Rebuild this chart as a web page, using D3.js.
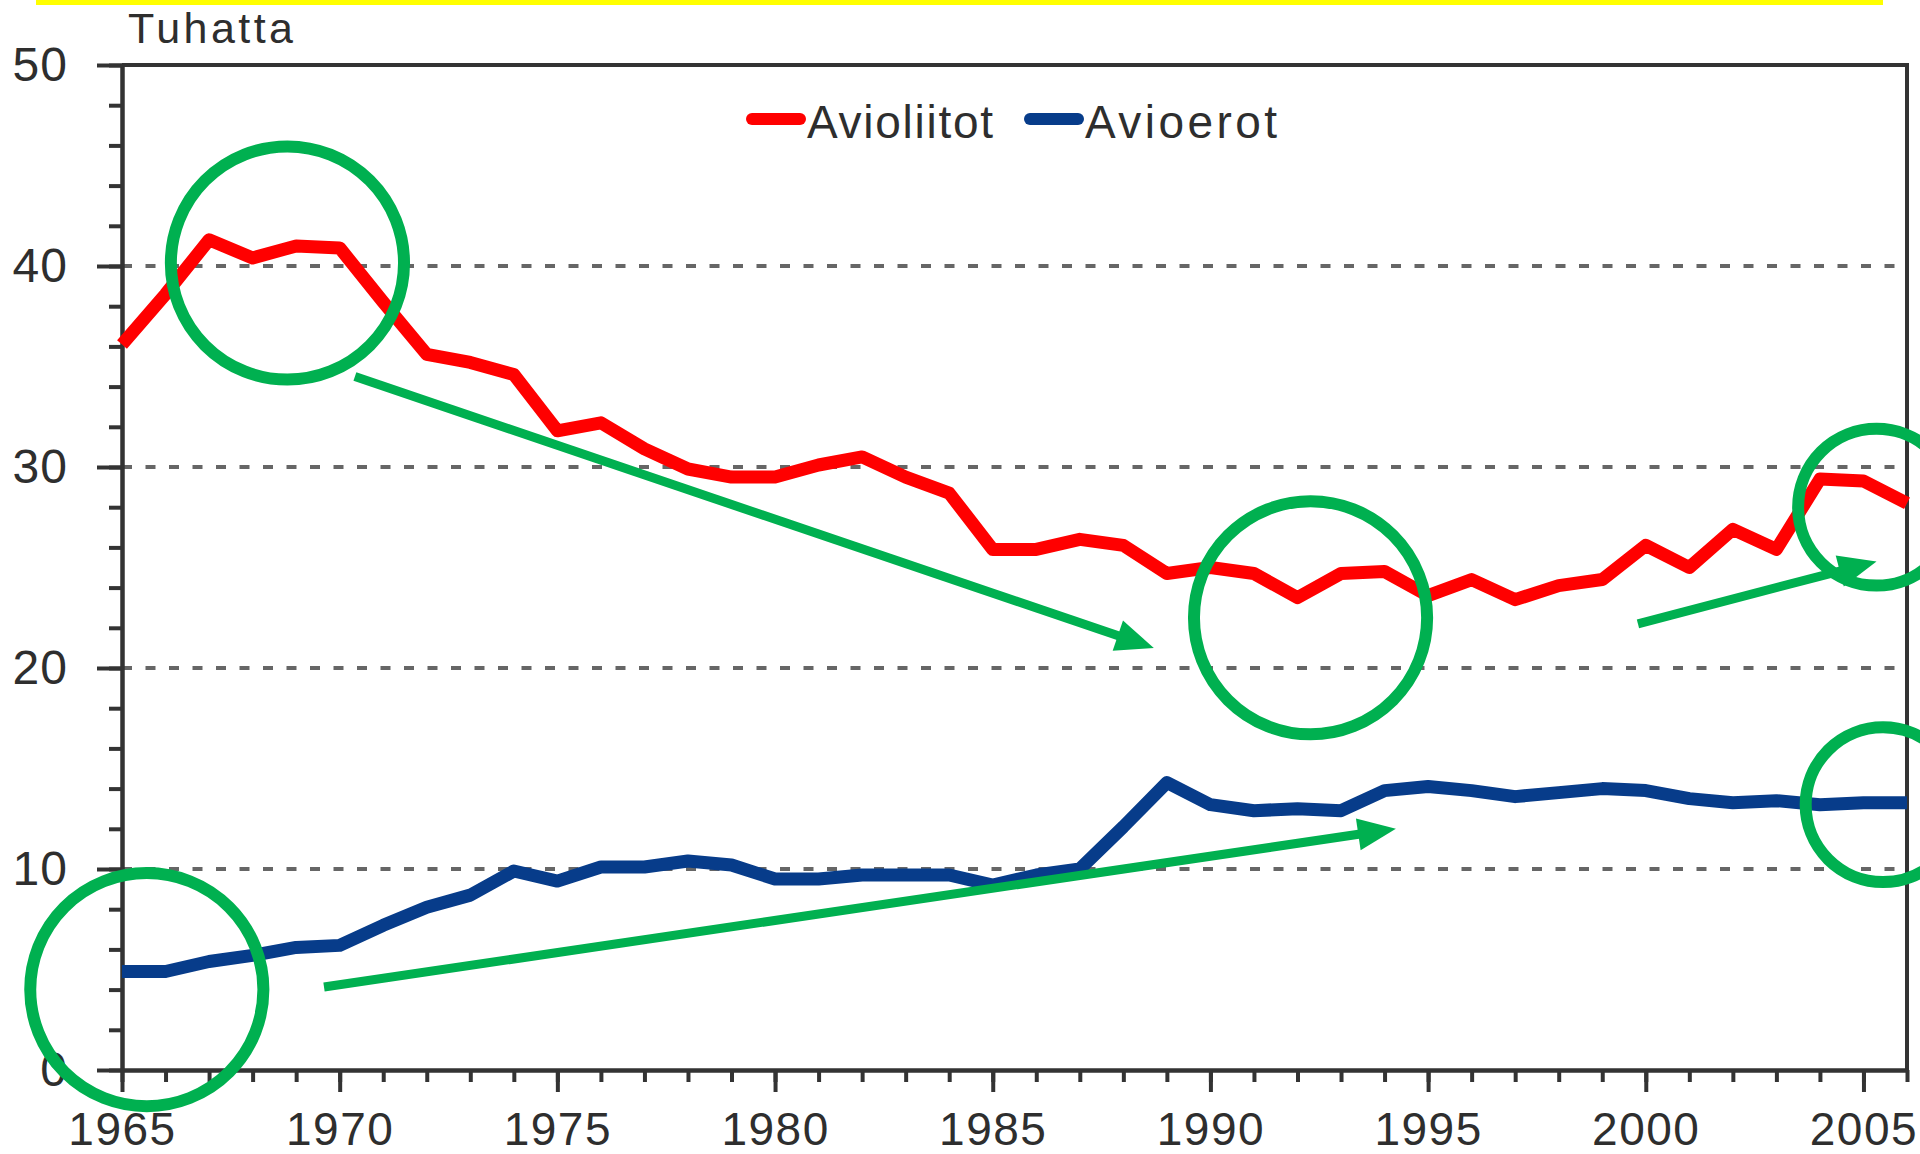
<!DOCTYPE html>
<html>
<head>
<meta charset="utf-8">
<script src="https://cdn.jsdelivr.net/npm/d3@7"></script>
<style>
  html, body { margin: 0; padding: 0; background: #fff; }
  svg { display: block; }
  text { font-family: "Liberation Sans", Arial, sans-serif; fill: #2e2e2e; }
</style>
</head>
<body>
<svg class="chart" width="1920" height="1154"></svg>
<script>
// Years on the x axis
const years = [
  1965, 1966, 1967, 1968, 1969, 1970, 1971, 1972, 1973, 1974,
  1975, 1976, 1977, 1978, 1979, 1980, 1981, 1982, 1983, 1984,
  1985, 1986, 1987, 1988, 1989, 1990, 1991, 1992, 1993, 1994,
  1995, 1996, 1997, 1998, 1999, 2000, 2001, 2002, 2003, 2004,
  2005, 2006
];

// Thousands per year
const avioliitot = [
  36.1, 38.6, 41.3, 40.4, 41.0, 40.9, 38.2, 35.6, 35.2, 34.6,
  31.8, 32.2, 30.9, 29.9, 29.5, 29.5, 30.1, 30.5, 29.5, 28.7,
  25.9, 25.9, 26.4, 26.1, 24.7, 25.0, 24.7, 23.5, 24.7, 24.8,
  23.6, 24.4, 23.4, 24.1, 24.4, 26.1, 25.0, 26.9, 25.9, 29.4,
  29.3, 28.2
];
const avioerot = [
  4.9, 4.9, 5.4, 5.7, 6.1, 6.2, 7.2, 8.1, 8.7, 9.9,
  9.4, 10.1, 10.1, 10.4, 10.2, 9.5, 9.5, 9.7, 9.7, 9.7,
  9.2, 9.7, 10.0, 12.1, 14.3, 13.2, 12.9, 13.0, 12.9, 13.9,
  14.1, 13.9, 13.6, 13.8, 14.0, 13.9, 13.5, 13.3, 13.4, 13.2,
  13.3, 13.3
];

const seriesNames = ['Avioliitot', 'Avioerot'];
const yTickLabels = [0, 10, 20, 30, 40, 50];
const gridValues = [10, 20, 30, 40];
const xTickLabels = [1965, 1970, 1975, 1980, 1985, 1990, 1995, 2000, 2005];
const unitLabel = 'Tuhatta';

// Green hand-drawn annotations, in data units (year, thousands)
const circleCenters = [[1968.8, 40.15], [1992.3, 22.5], [2005.3, 28.0], [2005.45, 13.2], [1965.57, 4.0]];
const circleRadii = [5.8, 5.8, 3.9, 3.85, 5.8];
const arrowStarts = [[1970.35, 34.5], [1969.64, 4.13], [1999.82, 22.2]];
const arrowEnds = [[1988.7, 21.0], [1994.26, 12.0], [2005.3, 25.3]];

const colors = { red: '#ff0000', blue: '#073c8a', green: '#00b050', axis: '#333', grid: '#666' };

const margin = { top: 65, right: 13, bottom: 84, left: 122 };
const width = 1920;
const height = 1154;

const svg = d3.select('.chart');

// Yellow strip along the top edge
svg.append('rect')
    .attr('x', 36).attr('y', 0)
    .attr('width', 1847).attr('height', 5)
    .attr('fill', '#ffff00');

const x = d3.scaleLinear()
    .domain([years[0], years[years.length - 1]])
    .range([margin.left, width - margin.right]);

const y = d3.scaleLinear()
    .domain([0, 50])
    .range([height - margin.bottom, margin.top]);

// Dashed gridlines
svg.append('g')
    .selectAll('line')
    .data(gridValues)
    .join('line')
    .attr('x1', x.range()[0])
    .attr('x2', x.range()[1])
    .attr('y1', d => y(d))
    .attr('y2', d => y(d))
    .attr('stroke', colors.grid)
    .attr('stroke-width', 4)
    .attr('stroke-dasharray', '10,13.5');

// Frame: top and right
svg.append('path')
    .attr('d', `M${x.range()[0]},${y(50)}H${x.range()[1]}V${y(0)}`)
    .attr('fill', 'none')
    .attr('stroke', colors.axis)
    .attr('stroke-width', 4);

function styleAxis(g) {
  g.selectAll('line').attr('stroke', colors.axis).attr('stroke-width', 4);
  g.select('.domain').attr('stroke', colors.axis).attr('stroke-width', 4);
}

function styleLabels(size, spacing) {
  return g => g.selectAll('text')
      .attr('font-size', size)
      .attr('letter-spacing', spacing)
      .attr('fill', '#2e2e2e')
      .style('font-family', '"Liberation Sans", Arial, sans-serif');
}

// Y axis: minor every 2, major every 10
svg.append('g')
    .attr('transform', `translate(${margin.left},0)`)
    .call(d3.axisLeft(y).tickValues(d3.range(0, 51, 2)).tickSize(13).tickSizeOuter(0).tickFormat(''))
    .call(styleAxis);

svg.append('g')
    .attr('transform', `translate(${margin.left},0)`)
    .call(d3.axisLeft(y).tickValues(yTickLabels).tickSize(25).tickSizeOuter(0).tickPadding(29))
    .call(styleAxis)
    .call(styleLabels(48, 1));

// X axis: minor every year, major every 5
svg.append('g')
    .attr('transform', `translate(0,${y(0)})`)
    .call(d3.axisBottom(x).tickValues(years).tickSize(12).tickSizeOuter(0).tickFormat(''))
    .call(styleAxis);

svg.append('g')
    .attr('transform', `translate(0,${y(0)})`)
    .call(d3.axisBottom(x).tickValues(xTickLabels).tickSize(22).tickSizeOuter(0).tickPadding(20).tickFormat(d3.format('d')))
    .call(styleAxis)
    .call(styleLabels(46, 1.5));

svg.append('text')
    .attr('x', 128)
    .attr('y', 43)
    .attr('font-size', 43)
    .attr('textLength', 165)
    .text(unitLabel);

// Lines
const line = d3.line()
    .x((d, i) => x(years[i]))
    .y(d => y(d));

[avioliitot, avioerot].forEach((series, i) => {
  svg.append('path')
      .datum(series)
      .attr('d', line)
      .attr('fill', 'none')
      .attr('stroke', i === 0 ? colors.red : colors.blue)
      .attr('stroke-width', 13)
      .attr('stroke-linejoin', 'round');
});

// Legend
const legendX = [752, 1030];
const legendText = [807, 1085];
const legendLen = [186, 192];
seriesNames.forEach((name, i) => {
  svg.append('line')
      .attr('x1', legendX[i]).attr('x2', legendX[i] + 48)
      .attr('y1', 119).attr('y2', 119)
      .attr('stroke', i === 0 ? colors.red : colors.blue)
      .attr('stroke-width', 12)
      .attr('stroke-linecap', 'round');
  svg.append('text')
      .attr('x', legendText[i])
      .attr('y', 138)
      .attr('font-size', 46)
      .attr('textLength', legendLen[i])
      .text(name);
});

// Annotations
const unitPx = y(0) - y(1);
svg.append('g')
    .selectAll('circle')
    .data(circleCenters)
    .join('circle')
    .attr('cx', d => x(d[0]))
    .attr('cy', d => y(d[1]))
    .attr('r', (d, i) => circleRadii[i] * unitPx)
    .attr('fill', 'none')
    .attr('stroke', colors.green)
    .attr('stroke-width', 12);

const headLen = 38;
const headHalf = 16;
arrowStarts.forEach((start, i) => {
  const x0 = x(start[0]);
  const y0 = y(start[1]);
  const x1 = x(arrowEnds[i][0]);
  const y1 = y(arrowEnds[i][1]);
  const len = Math.hypot(x1 - x0, y1 - y0);
  const ux = (x1 - x0) / len;
  const uy = (y1 - y0) / len;
  const bx = x1 - ux * headLen;
  const by = y1 - uy * headLen;

  svg.append('line')
      .attr('x1', x0).attr('y1', y0)
      .attr('x2', bx + ux * 2).attr('y2', by + uy * 2)
      .attr('stroke', colors.green)
      .attr('stroke-width', 9);

  svg.append('path')
      .attr('d', `M${x1},${y1}L${bx - uy * headHalf},${by + ux * headHalf}L${bx + uy * headHalf},${by - ux * headHalf}Z`)
      .attr('fill', colors.green);
});
</script>
</body>
</html>
